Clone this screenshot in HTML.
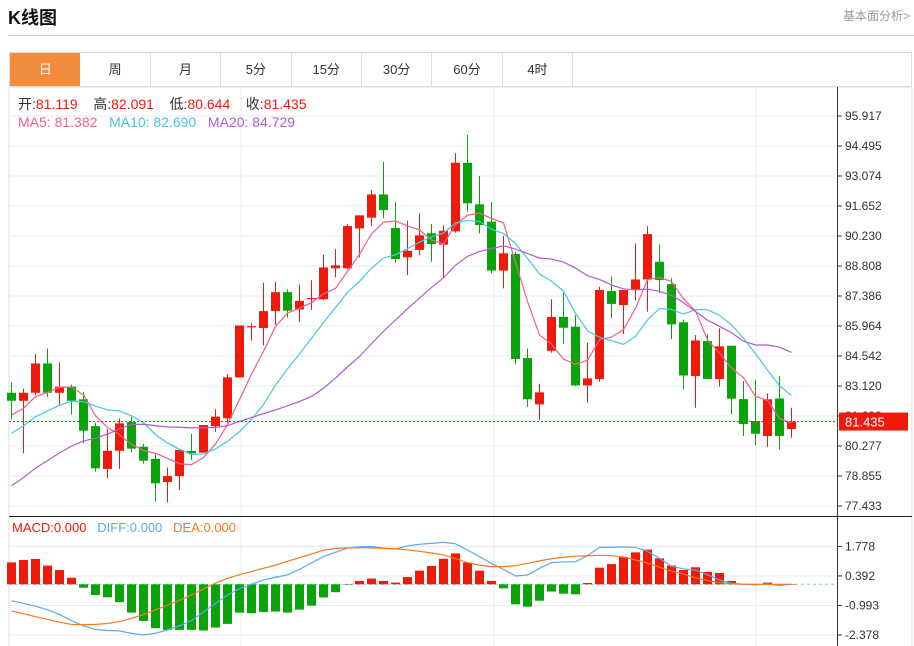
<!DOCTYPE html>
<html><head><meta charset="utf-8">
<style>
body{margin:0;background:#fff;width:914px;height:646px;overflow:hidden;font-family:"Liberation Sans","Noto Sans CJK SC",sans-serif;position:relative}
.hdr{position:absolute;left:8px;top:4px;font-size:18px;font-weight:bold;color:#111}
.more{position:absolute;right:4px;top:7px;font-size:12px;color:#999}
.hline{position:absolute;left:8px;right:0;top:35px;border-top:1px solid #ccc}
.tabs{position:absolute;left:9px;top:52px;width:903px;height:35px;border:1px solid #ddd;box-sizing:border-box;display:flex}
.tab{width:70.4px;height:100%;border-right:1px solid #ddd;box-sizing:border-box;text-align:center;line-height:34px;font-size:13px;color:#333}
.tab.active{background:#f28c3f;color:#fff;border-right:none}
svg{position:absolute;left:0;top:0}
</style></head><body>
<div class="hdr">K线图</div>
<div class="more">基本面分析&gt;</div>
<div class="hline"></div>
<div class="tabs">
<div class="tab active">日</div>
<div class="tab">周</div>
<div class="tab">月</div>
<div class="tab">5分</div>
<div class="tab">15分</div>
<div class="tab">30分</div>
<div class="tab">60分</div>
<div class="tab">4时</div>
</div>
<svg id="chart" width="914" height="646"></svg>
<script>
const opens=[82.80,82.42,82.80,84.19,82.80,83.09,82.49,81.22,79.19,80.05,81.41,80.24,79.67,78.57,78.85,80.04,79.96,81.22,81.59,83.53,85.90,85.87,86.67,87.57,86.75,87.24,87.23,88.70,88.70,90.59,91.10,92.20,90.61,89.22,89.57,90.36,89.82,90.45,93.70,91.73,90.91,88.59,89.38,84.45,82.25,84.79,86.40,85.93,83.15,83.45,87.62,86.96,87.70,88.17,89.01,87.95,86.14,83.59,85.25,83.45,85.03,82.50,81.46,80.75,82.53,81.08];
const highs=[83.28,82.99,84.64,84.89,84.24,83.18,82.85,81.38,81.08,81.58,81.65,80.38,79.88,79.25,79.34,80.86,81.21,82.02,83.67,85.99,86.09,88.02,88.07,87.70,87.94,88.13,89.34,89.61,90.78,91.21,92.41,93.74,91.85,90.95,91.30,90.80,90.73,94.15,95.02,93.07,91.84,90.23,89.49,84.89,83.23,87.23,87.54,86.48,85.17,87.83,88.30,87.67,89.88,90.70,89.82,88.22,86.27,85.54,85.58,85.85,85.03,83.36,83.40,82.77,83.59,82.09];
const lows=[81.54,79.93,82.69,82.61,82.22,81.77,80.40,79.06,78.74,79.19,79.98,79.44,77.64,77.60,78.19,79.62,80.77,80.95,81.38,85.48,85.27,85.04,86.01,86.37,86.15,86.72,87.19,88.27,88.65,89.22,90.71,91.07,88.97,88.38,89.33,89.01,88.21,90.39,91.38,90.35,88.46,87.75,84.16,82.14,81.51,84.70,85.11,83.12,82.33,83.32,86.33,85.58,87.19,86.64,87.54,85.35,82.96,82.09,83.58,83.09,81.79,80.75,80.31,80.24,80.12,80.67];
const closes=[82.42,82.80,84.19,82.80,83.09,82.42,81.00,79.22,80.05,81.35,80.15,79.58,78.51,78.85,80.09,79.93,81.27,81.67,83.53,85.99,85.96,86.67,87.57,86.69,87.16,87.29,88.74,88.84,90.70,91.21,92.20,91.46,89.14,89.53,90.26,89.85,90.48,93.70,91.78,90.75,88.59,89.41,84.40,82.49,82.82,86.39,85.88,83.15,83.48,87.67,87.01,87.67,88.17,90.32,88.14,86.04,83.62,85.28,83.45,85.00,82.52,81.32,80.86,82.49,80.75,81.435];
const priorCloses=[75.0,75.3,75.6,75.8,76.0,76.2,76.4,76.3,76.2,76.2,79.3,79.8,80.2,80.3,80.5,81.2,81.4,81.8,81.9];
const macdHist=[1.03,1.14,1.19,0.88,0.67,0.31,-0.16,-0.5,-0.61,-0.84,-1.33,-1.72,-2.06,-2.14,-2.14,-2.14,-2.17,-2.03,-1.86,-1.33,-1.36,-1.30,-1.28,-1.33,-1.19,-1.0,-0.62,-0.37,-0.02,0.16,0.27,0.16,0.08,0.34,0.64,0.86,1.2,1.45,1.02,0.64,0.16,-0.19,-0.94,-1.05,-0.77,-0.34,-0.44,-0.47,0.06,0.78,0.95,1.28,1.5,1.63,1.22,0.88,0.67,0.8,0.58,0.53,0.16,0.02,0.0,0.08,-0.06,0.0];
const diffVals=[-0.77,-0.9,-1.02,-1.2,-1.42,-1.7,-1.95,-2.12,-2.17,-2.19,-2.3,-2.38,-2.3,-2.14,-1.95,-1.7,-1.3,-0.9,-0.5,-0.2,0.0,0.2,0.33,0.44,0.7,1.0,1.3,1.5,1.7,1.76,1.77,1.7,1.66,1.8,1.88,1.92,1.97,1.9,1.61,1.3,0.98,0.7,0.39,0.44,0.75,1.02,1.05,1.06,1.35,1.73,1.74,1.75,1.73,1.55,1.22,0.85,0.72,0.67,0.45,0.2,0.05,0,-0.02,0.02,-0.05,0];
const deaVals=[-1.25,-1.38,-1.52,-1.65,-1.78,-1.88,-1.9,-1.88,-1.84,-1.75,-1.6,-1.42,-1.2,-0.98,-0.75,-0.5,-0.22,0.05,0.28,0.45,0.6,0.75,0.9,1.08,1.25,1.42,1.6,1.68,1.71,1.72,1.71,1.69,1.67,1.62,1.55,1.47,1.38,1.2,1.02,0.9,0.83,0.83,0.88,0.98,1.1,1.2,1.27,1.32,1.34,1.36,1.35,1.28,1.14,1.0,0.8,0.62,0.48,0.3,0.18,0.08,0.03,0,0,0,0,0];
const priceTicks=[95.917,94.495,93.074,91.652,90.230,88.808,87.386,85.964,84.542,83.120,81.698,80.277,78.855,77.433];
const macdTicks=[1.778,0.392,-0.993,-2.378];

const NS='http://www.w3.org/2000/svg';
const svg=document.getElementById('chart');
function mk(tag,attrs,parent){const e=document.createElementNS(NS,tag);for(const k in attrs)e.setAttribute(k,attrs[k]);(parent||svg).appendChild(e);return e;}
const xS=i=>11.5+12*i;
const yP=p=>116+(95.917-p)*21.1;
const yM=v=>584.3-v*21.3;
const RED='#f01a0a',GREEN='#0aa40a';

const fr=mk('rect',{x:9,y:87,width:903,height:560,fill:'none',stroke:'#ddd'});


priceTicks.forEach(t=>{const l=mk('line',{x1:9,x2:837,y1:yP(t),y2:yP(t),stroke:'#e3ecf3'});

});
macdTicks.forEach(t=>{const l=mk('line',{x1:9,x2:837,y1:yM(t),y2:yM(t),stroke:'#e3ecf3'});

});
[241,494,756].forEach(x=>{const l=mk('line',{x1:x,x2:x,y1:87,y2:646,stroke:'#e3ecf3'});

});
const ax=mk('line',{x1:837.5,x2:837.5,y1:87,y2:646,stroke:'#333'});


const sep=mk('line',{x1:9,x2:912,y1:516.5,y2:516.5,stroke:'#222'});


priceTicks.forEach(t=>{mk('line',{x1:837,x2:842,y1:yP(t),y2:yP(t),stroke:'#333'});
const tx=mk('text',{x:845,y:yP(t)+4,'font-size':12,fill:'#333'});tx.textContent=t.toFixed(3);

});
macdTicks.forEach(t=>{mk('line',{x1:837,x2:842,y1:yM(t),y2:yM(t),stroke:'#333'});
const tx=mk('text',{x:845,y:yM(t)+4,'font-size':12,fill:'#333'});tx.textContent=t.toFixed(3);

});

closes.forEach((c,i)=>{const o=opens[i],up=c>=o,col=up?RED:GREEN,x=xS(i);
const g=mk('g',{});


mk('line',{x1:x,x2:x,y1:yP(highs[i]),y2:yP(lows[i]),stroke:col},g);
const top=yP(Math.max(o,c)),bot=yP(Math.min(o,c));
mk('rect',{x:x-4.5,y:top,width:9,height:Math.max(1,bot-top),fill:col},g);});

const all=priorCloses.concat(closes);
function ma(n){return closes.map((c,i)=>{const j=i+priorCloses.length;let s=0;for(let k=j-n+1;k<=j;k++)s+=all[k];return s/n;});}
[[5,'#ee5f8d','ma5-line'],[10,'#46c6e0','ma10-line'],[20,'#b35bc9','ma20-line']].forEach(([n,col,name])=>{
const v=ma(n);const pl=mk('polyline',{points:v.map((p,i)=>xS(i)+','+yP(p)).join(' '),fill:'none',stroke:col,'stroke-width':1.2});

});

const lastY=yP(closes[closes.length-1]);
const dl=mk('line',{x1:9,x2:837,y1:lastY,y2:lastY,stroke:RED,'stroke-dasharray':'2,2'});


const lb=mk('rect',{x:839,y:lastY-9,width:69,height:18,fill:RED});


const lt=mk('text',{x:845,y:lastY+5,'font-size':13,fill:'#fff'});lt.textContent=closes[closes.length-1].toFixed(3);



const zl=mk('line',{x1:9,x2:837,y1:yM(0),y2:yM(0),stroke:'#8cc','stroke-dasharray':'3,3'});


macdHist.forEach((v,i)=>{const y0=yM(0),y1=yM(v);
const r=mk('rect',{x:xS(i)-4.5,y:Math.min(y0,y1),width:9,height:Math.max(0.5,Math.abs(y1-y0)),fill:v>=0?RED:GREEN});

});
const dp=mk('polyline',{points:diffVals.map((v,i)=>xS(i)+','+yM(v)).join(' '),fill:'none',stroke:'#5aa8ee','stroke-width':1.2});


const ep=mk('polyline',{points:deaVals.map((v,i)=>xS(i)+','+yM(v)).join(' '),fill:'none',stroke:'#f7791c','stroke-width':1.2});



function leg(x,y,parts,name,fs){const t=mk('text',{x:x,y:y,'font-size':fs});


t.style.whiteSpace='pre';
parts.forEach(([s,c])=>{const ts=mk('tspan',{fill:c},t);ts.textContent=s;});}
leg(18,109,[['开:','#333'],['81.119    ','#f01a0a'],['高:','#333'],['82.091    ','#f01a0a'],['低:','#333'],['80.644    ','#f01a0a'],['收:','#333'],['81.435','#f01a0a']],'ohlc-legend',14);
leg(18,127,[['MA5: 81.382   ','#ee5f8d'],['MA10: 82.690   ','#46c6e0'],['MA20: 84.729','#b35bc9']],'ma-legend',14);
leg(12,532,[['MACD:0.000   ','#f01a0a'],['DIFF:0.000   ','#5aa8ee'],['DEA:0.000','#f7791c']],'macd-legend',13);
</script>
</body></html>
